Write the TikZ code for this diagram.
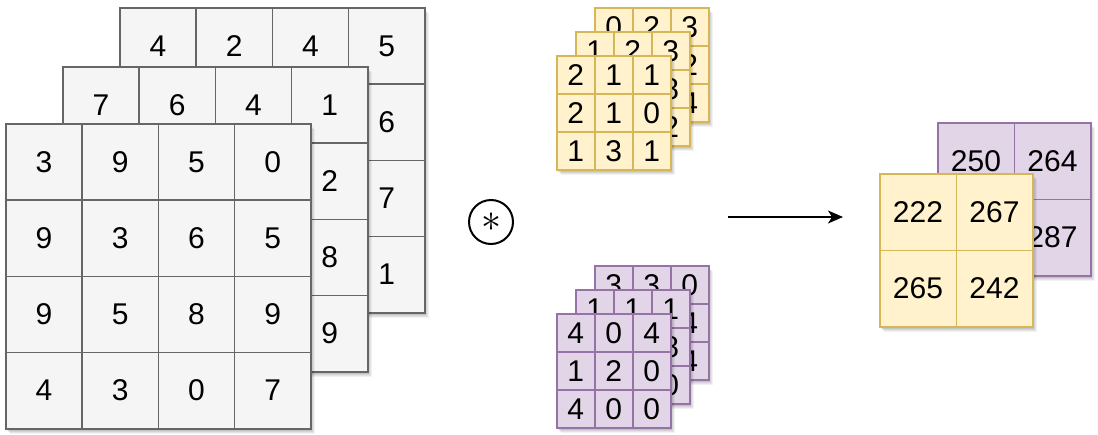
\documentclass[tikz,border=0pt]{standalone}
\usepackage{fontspec}
\setmainfont{Liberation Sans}
\usetikzlibrary{shadows,arrows.meta}
\definecolor{gfill}{HTML}{F5F5F5}
\definecolor{gline}{HTML}{666666}
\definecolor{yfill}{HTML}{FFF2CC}
\definecolor{yline}{HTML}{D6B656}
\definecolor{pfill}{HTML}{E1D5E7}
\definecolor{pline}{HTML}{9673A6}
\tikzset{
  numfont/.style={font=\fontsize{30}{33}\selectfont},
  cellbase/.style={line width=1.5pt, inner sep=0pt, anchor=north west, numfont},
  gcell/.style={cellbase, draw=gline, fill=gfill},
  ycell/.style={cellbase, draw=yline, fill=yfill},
  pcell/.style={cellbase, draw=pline, fill=pfill},
  layershadow/.style={
    drop shadow={shadow xshift=1pt, shadow yshift=-2pt, opacity=0.07, fill=black},
    drop shadow={shadow xshift=2pt, shadow yshift=-3pt, opacity=0.07, fill=black},
    drop shadow={shadow xshift=3pt, shadow yshift=-4pt, opacity=0.06, fill=black},
    drop shadow={shadow xshift=4pt, shadow yshift=-5pt, opacity=0.05, fill=black}},
  gbg/.style={gcell, layershadow},
  ybg/.style={ycell, layershadow},
  pbg/.style={pcell, layershadow},
  convop/.style={circle, draw=black, line width=2pt, minimum size=44pt, inner sep=0pt},
  flow/.style={line width=1.5pt, -{Stealth[length=15pt, width=13pt, inset=4pt]}},
}
% #1 name, #2 x0, #3 y0, #4 cell size, #5 n, #6 style prefix, #7 rows
\newcommand{\mylayer}[7]{%
  \node[#6bg, minimum size=#5*#4 pt] (#1) at (#2,#3) {};
  \foreach \rowvals [count=\ri] in {#7} {
    \foreach \v [count=\ci] in \rowvals {
      \node[#6cell, minimum size=#4 pt] (#1-\ri-\ci) at ({#2+(\ci-1)*#4},{#3+(\ri-1)*#4}) {\v};
    }
  }%
}
\begin{document}
\begin{tikzpicture}[x=1pt, y=-1pt]
\useasboundingbox (0,0) rectangle (1098,434);
% input volume
\mylayer{inC}{119}{7}{76.25}{4}{g}{{4,2,4,5},{{},{},{},6},{{},{},{},7},{{},{},{},1}}
\mylayer{inB}{62}{66}{76.25}{4}{g}{{7,6,4,1},{{},{},{},2},{{},{},{},8},{{},{},{},9}}
\mylayer{inA}{5}{123}{76.25}{4}{g}{{3,9,5,0},{9,3,6,5},{9,5,8,9},{4,3,0,7}}
% yellow kernel
\mylayer{kyC}{594}{7}{38}{3}{y}{{0,2,3},{{},{},2},{{},{},4}}
\mylayer{kyB}{575}{31}{38}{3}{y}{{1,2,3},{{},{},8},{{},{},2}}
\mylayer{kyA}{556}{55}{38}{3}{y}{{2,1,1},{2,1,0},{1,3,1}}
% purple kernel
\mylayer{kpC}{594}{265}{38}{3}{p}{{3,3,0},{{},{},4},{{},{},4}}
\mylayer{kpB}{575}{289}{38}{3}{p}{{1,1,1},{{},{},8},{{},{},0}}
\mylayer{kpA}{556}{313}{38}{3}{p}{{4,0,4},{1,2,0},{4,0,0}}
% output
\mylayer{outB}{937}{122}{76.5}{2}{p}{{250,264},{{},287}}
\mylayer{outA}{879}{173}{76.5}{2}{y}{{222,267},{265,242}}
% operator and arrow
\node[convop] (conv) at (491,222) {\scalebox{4}{$\ast$}};
\coordinate (arrS) at (728,217);
\coordinate (arrE) at (843,217);
\draw[flow] (arrS) -- (arrE);
\end{tikzpicture}
\end{document}
